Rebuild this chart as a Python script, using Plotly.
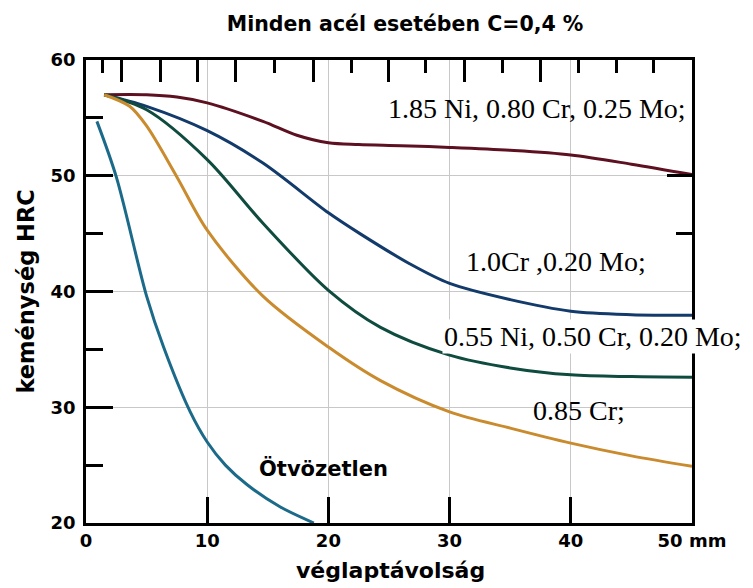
import plotly.graph_objects as go

# ---- data ----
title_text = "Minden acél esetében C=0,4 %"
x_title = "véglaptávolság"
y_title = "keménység HRC"

x_tick_vals = [0, 10, 20, 30, 40, 50]
x_tick_text = ["0", "10", "20", "30", "40", "50 mm"]
y_tick_vals = [20, 30, 40, 50, 60]
y_minor_vals = [25, 35, 45, 55]
top_long_ticks = [2.95, 6.11, 9.24, 12.35, 18.73, 24.94, 31.21, 37.52]
top_short_ticks = [1.38, 15.59, 21.92, 28.05, 34.39, 40.62, 43.73, 46.86]
right_long_ticks = [50]
right_short_ticks = [45]

ni_cr_mo_x = [1.5, 5, 7.5, 10, 14.6, 17.4, 20, 22.5, 26, 30, 35, 40, 45, 50]
ni_cr_mo_y = [57.0, 57.0, 56.8, 56.3, 54.7, 53.5, 52.85, 52.7, 52.6, 52.45, 52.2, 51.8, 51.0, 50.1]

cr_mo_x = [1.5, 5, 10, 14.6, 20, 22.6, 26.7, 30, 35, 40, 45, 50]
cr_mo_y = [57.0, 56.0, 53.9, 51.1, 46.8, 45.0, 42.4, 40.7, 39.3, 38.3, 38.0, 37.95]

ni_cr_mo2_x = [1.5, 5, 10, 14.6, 20, 24.3, 30, 35, 40, 45, 50]
ni_cr_mo2_y = [57.0, 55.7, 51.4, 45.9, 40.1, 36.9, 34.5, 33.4, 32.8, 32.65, 32.6]

cr_x = [1.5, 3.6, 5, 7.5, 10, 14.6, 20, 24.3, 30, 35, 40, 45, 50]
cr_y = [57.0, 56.0, 54.3, 49.9, 45.3, 39.6, 35.2, 32.3, 29.6, 28.2, 26.9, 25.8, 24.9]

plain_x = [0.9, 2.5, 5.0, 6.4, 8.6, 10.0, 11.5, 13.3, 16.0, 18.8]
plain_y = [54.7, 49.9, 39.6, 35.2, 29.6, 27.0, 25.0, 23.3, 21.4, 20.0]

series = [
    ("1.85 Ni, 0.80 Cr, 0.25 Mo;", ni_cr_mo_x, ni_cr_mo_y, "#5c1020"),
    ("1.0Cr ,0.20 Mo;", cr_mo_x, cr_mo_y, "#123a6a"),
    ("0.55 Ni, 0.50 Cr, 0.20 Mo;", ni_cr_mo2_x, ni_cr_mo2_y, "#0f4c3f"),
    ("0.85 Cr;", cr_x, cr_y, "#c98b2e"),
    ("Ötvözetlen", plain_x, plain_y, "#1b6a8a"),
]

# label anchor points (data coords)
label_pos = {
    "1.85 Ni, 0.80 Cr, 0.25 Mo;": (37.2, 55.8),
    "1.0Cr ,0.20 Mo;": (38.8, 42.6),
    "0.55 Ni, 0.50 Cr, 0.20 Mo;": (41.85, 36.1),
    "0.85 Cr;": (40.7, 29.7),
    "Ötvözetlen": (19.6, 24.7),
}

fig = go.Figure()
for name, xs, ys, col in series:
    fig.add_trace(go.Scatter(x=xs, y=ys, mode="lines", name=name,
                             line=dict(color=col, width=3, shape="spline", smoothing=0.9),
                             showlegend=False, hoverinfo="x+y"))

# empty helper traces so the tick-only overlay axes are built
for xa, ya in [("x2", "y"), ("x3", "y"), ("x", "y2"), ("x", "y3"), ("x", "y4")]:
    fig.add_trace(go.Scatter(x=[], y=[], xaxis=xa, yaxis=ya, showlegend=False, hoverinfo="skip"))

tickfont = dict(family="DejaVu Sans", size=18, color="black", weight="bold")

ann = []
for name, (ax, ay) in label_pos.items():
    if name == "Ötvözetlen":
        f = dict(family="DejaVu Sans", size=21, color="black", weight="bold")
    else:
        f = dict(family="Liberation Serif", size=28, color="black")
    ann.append(dict(x=ax, y=ay, xref="x", yref="y", text=name, showarrow=False,
                    font=f, xanchor="center", yanchor="middle",
                    bgcolor="white" if name.startswith("0.55") else None))

ann.append(dict(x=0.503, y=0, xref="paper", yref="paper", yshift=-47, text=x_title,
                showarrow=False, xanchor="center", yanchor="middle",
                font=dict(family="DejaVu Sans", size=22, color="black", weight="bold")))
ann.append(dict(x=0, y=0.5, xref="paper", yref="paper", xshift=-61, text=y_title,
                showarrow=False, xanchor="center", yanchor="middle", textangle=-90,
                font=dict(family="DejaVu Sans", size=22.5, color="black", weight="bold")))

tick_common = dict(ticks="inside", tickcolor="black", tickwidth=2.5, showticklabels=False,
                   showgrid=False, zeroline=False, showline=False)

fig.update_layout(
    width=745, height=580,
    margin=dict(l=78, r=61, t=52, b=65),
    paper_bgcolor="white", plot_bgcolor="white",
    title=dict(text=title_text, x=0.533, xref="container", xanchor="center",
               y=1 - 16 / 580, yref="container", yanchor="middle",
               font=dict(family="DejaVu Sans", size=20.5, color="black", weight="bold")),
    xaxis=dict(range=[0, 50], tickvals=x_tick_vals, ticktext=x_tick_text,
               ticks="inside", ticklen=26, tickwidth=2.5, tickcolor="black",
               showline=True, mirror=True, linecolor="black", linewidth=2.5,
               showgrid=True, gridcolor="#c8c8c8", gridwidth=1, zeroline=False,
               tickfont=tickfont),
    yaxis=dict(range=[20, 60], tickvals=y_tick_vals,
               ticks="inside", ticklen=27, tickwidth=2.5, tickcolor="black",
               showline=True, mirror=True, linecolor="black", linewidth=2.5,
               showgrid=True, gridcolor="#c8c8c8", gridwidth=1, zeroline=False,
               tickfont=tickfont, ticklabelstandoff=4),
    xaxis2=dict(overlaying="x", side="top", anchor="y", range=[0, 50],
                tickvals=top_long_ticks, ticklen=22, **tick_common),
    xaxis3=dict(overlaying="x", side="top", anchor="y", range=[0, 50],
                tickvals=top_short_ticks, ticklen=13, **tick_common),
    yaxis2=dict(overlaying="y", side="left", anchor="x", range=[20, 60],
                tickvals=y_minor_vals, ticklen=17, **tick_common),
    yaxis3=dict(overlaying="y", side="right", anchor="x", range=[20, 60],
                tickvals=right_long_ticks, ticklen=25, **tick_common),
    yaxis4=dict(overlaying="y", side="right", anchor="x", range=[20, 60],
                tickvals=right_short_ticks, ticklen=16, **tick_common),
    annotations=ann,
)

fig.write_html("out.html")
